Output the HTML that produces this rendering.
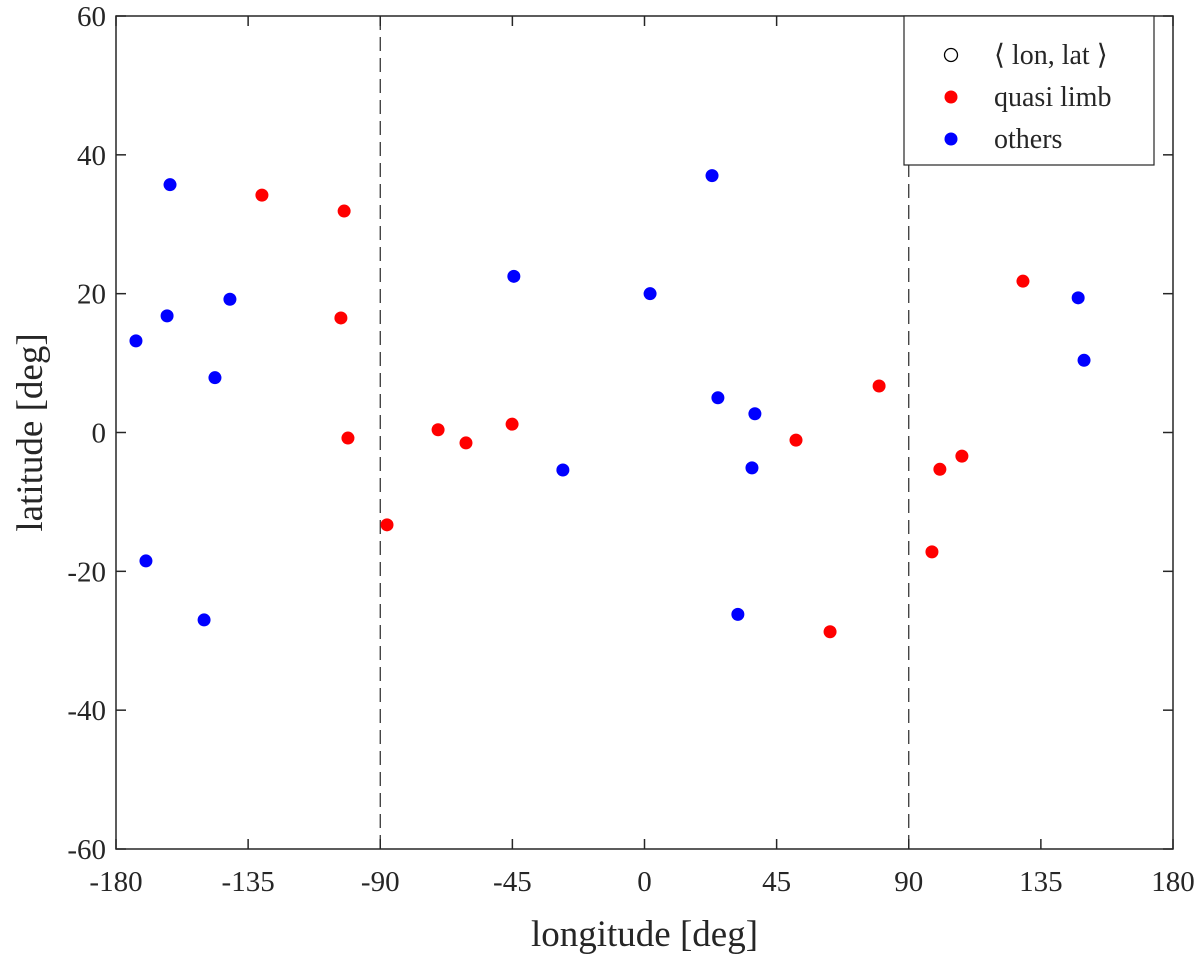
<!DOCTYPE html>
<html><head><meta charset="utf-8"><style>
body{margin:0;background:#fff}
text{font-family:"Liberation Serif",serif;fill:#262626}
</style></head><body>
<svg id="chart" width="1200" height="956" xmlns="http://www.w3.org/2000/svg"></svg>
<script>
const xTicks=[-180,-135,-90,-45,0,45,90,135,180];
const yTicks=[60,40,20,0,-20,-40,-60];
const redLon=[-130.3,-102.3,-103.4,-101,-87.7,-70.3,-60.8,-45.1,51.6,63.2,79.9,97.9,100.6,108.1,128.9];
const redLat=[34.2,31.9,16.5,-0.8,-13.3,0.4,-1.5,1.2,-1.1,-28.7,6.7,-17.2,-5.3,-3.4,21.8];
const blueLon=[-161.6,-162.6,-173.2,-141.2,-146.3,-169.8,-150,-44.5,-27.8,1.9,23,25,37.6,36.6,31.8,147.7,149.7];
const blueLat=[35.7,16.8,13.2,19.2,7.9,-18.5,-27,22.5,-5.4,20,37,5,2.7,-5.1,-26.2,19.4,10.4];
const NS='http://www.w3.org/2000/svg';
const svg=document.getElementById('chart');
const L=116,R=1173,T=16,B=849;
const X=v=>L+(v+180)/360*(R-L);
const Y=v=>T+(60-v)/120*(B-T);
function mk(tag,a,p){const e=document.createElementNS(NS,tag);for(const k in a)e.setAttribute(k,a[k]);(p||svg).appendChild(e);return e;}
let e;
[-90,90].forEach(v=>{
e=mk('line',{x1:X(v),x2:X(v),y1:T,y2:B,stroke:'#262626','stroke-width':1.2,'stroke-dasharray':'14,7'});


});
xTicks.forEach(v=>{
mk('line',{x1:X(v),x2:X(v),y1:B,y2:B-10,stroke:'#262626','stroke-width':1.5});
mk('line',{x1:X(v),x2:X(v),y1:T,y2:T+10,stroke:'#262626','stroke-width':1.5});
e=mk('text',{x:X(v),y:B+42,'text-anchor':'middle','font-size':29});e.textContent=v;


});
yTicks.forEach(v=>{
mk('line',{x1:L,x2:L+10,y1:Y(v),y2:Y(v),stroke:'#262626','stroke-width':1.5});
mk('line',{x1:R,x2:R-10,y1:Y(v),y2:Y(v),stroke:'#262626','stroke-width':1.5});
e=mk('text',{x:L-10,y:Y(v)+10,'text-anchor':'end','font-size':29});e.textContent=v;


});
e=mk('rect',{x:L,y:T,width:R-L,height:B-T,fill:'none',stroke:'#262626','stroke-width':1.5});


redLon.forEach((v,i)=>{e=mk('circle',{cx:X(v),cy:Y(redLat[i]),r:6.5,fill:'#ff0000'});

});
blueLon.forEach((v,i)=>{e=mk('circle',{cx:X(v),cy:Y(blueLat[i]),r:6.5,fill:'#0000ff'});

});
e=mk('text',{x:(L+R)/2,y:946,'text-anchor':'middle','font-size':37});e.textContent='longitude [deg]';


e=mk('text',{x:0,y:0,'text-anchor':'middle','font-size':37,transform:'translate(42,'+((T+B)/2)+') rotate(-90)'});e.textContent='latitude [deg]';


const lg=mk('g',{});


mk('rect',{x:904,y:16,width:250,height:149,fill:'#fff',stroke:'#262626','stroke-width':1.2},lg);
const items=[['⟨ lon, lat ⟩','none'],['quasi limb','#ff0000'],['others','#0000ff']];
items.forEach((it,i)=>{
const cy=55+i*42;
mk('circle',{cx:951,cy:cy,r:6.5,fill:it[1],stroke:it[1]=='none'?'#000':'none','stroke-width':1.3},lg);
e=mk('text',{x:994,y:cy+9,'font-size':28},lg);e.textContent=it[0];


});
</script>
</body></html>
